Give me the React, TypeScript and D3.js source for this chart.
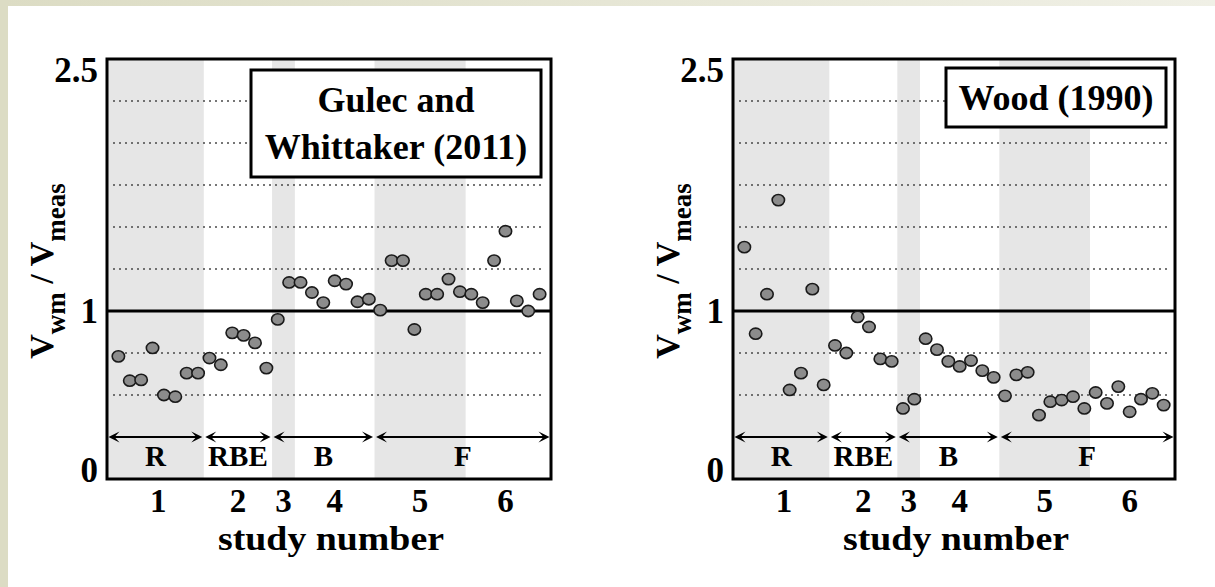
import React from 'react';
import * as d3 from 'd3';

// study numbers along the x axis and how many specimens each study contributes
const studies = ['1', '2', '3', '4', '5', '6'];
const pointsPerStudy = [8, 6, 2, 7, 8, 7];

// V_wm / V_meas, in specimen order
const gulecRatios = [
  0.73, 0.585, 0.59, 0.78, 0.5, 0.49, 0.63, 0.63,
  0.72, 0.68, 0.87, 0.855, 0.81, 0.66,
  0.95, 1.17,
  1.17, 1.11, 1.05, 1.18, 1.16, 1.055, 1.07,
  1.005, 1.3, 1.3, 0.89, 1.1, 1.1, 1.19, 1.115,
  1.1, 1.05, 1.3, 1.475, 1.06, 1.0, 1.1,
];

const woodRatios = [
  1.38, 0.865, 1.1, 1.66, 0.53, 0.63, 1.13, 0.56,
  0.795, 0.75, 0.965, 0.905, 0.715, 0.7,
  0.42, 0.475,
  0.835, 0.77, 0.7, 0.67, 0.705, 0.645, 0.605,
  0.495, 0.62, 0.635, 0.38, 0.46, 0.47, 0.49, 0.42,
  0.515, 0.45, 0.55, 0.4, 0.475, 0.51, 0.44,
];

// wall type groups: label and first / last study (0-based) they cover
const typeLabels = ['R', 'RBE', 'B', 'F'];
const typeStudies = [
  [0, 0],
  [1, 1],
  [2, 3],
  [4, 5],
];

const yTickValues = [0, 1, 2.5];
const gridValues = [0.5, 0.75, 1.25, 1.5, 1.75, 2, 2.25];
const arrowLevel = 0.25;

const W = 1215;
const H = 587;
const TOP = 59;
const BOTTOM = 479;
const FONT = '"Liberation Serif", "Times New Roman", serif';

const panels = [
  {
    left: 107,
    right: 551,
    ratios: gulecRatios,
    title: ['Gulec and', 'Whittaker (2011)'],
    box: { x0: 251, y0: 70, x1: 541, y1: 177 },
  },
  {
    left: 733,
    right: 1175,
    ratios: woodRatios,
    title: ['Wood (1990)'],
    box: { x0: 946, y0: 68, x1: 1166, y1: 127 },
  },
];

const arrowHead = (tipX: number, y: number, dir: number) => {
  const len = 11;
  const half = 5.5;
  const notch = 6;
  return `M${tipX},${y} L${tipX - dir * len},${y - half} L${tipX - dir * notch},${y} L${tipX - dir * len},${y + half} Z`;
};

interface PanelConfig {
  left: number;
  right: number;
  ratios: number[];
  title: string[];
  box: { x0: number; y0: number; x1: number; y1: number };
}

const Panel: React.FC<{ p: PanelConfig }> = ({ p }) => {
  const n = d3.sum(pointsPerStudy);
  const x = d3.scaleLinear().domain([-1, n]).range([p.left, p.right]);
  const y = d3.scaleLinear().domain([0, 2.5]).range([BOTTOM, TOP]);
  const starts = [0, ...Array.from(d3.cumsum(pointsPerStudy))];
  const edge = (k: number) => (k === 0 ? -1 : k === studies.length ? n : starts[k] - 0.5);
  const studyCenter = (k: number) => (starts[k] + starts[k + 1] - 1) / 2;
  const yArrow = y(arrowLevel);
  const boxH = p.box.y1 - p.box.y0;

  return (
    <g>
      {studies.map((s, k) =>
        k % 2 === 0 ? (
          <rect
            key={`band-${s}`}
            x={x(edge(k))}
            y={TOP}
            width={x(edge(k + 1)) - x(edge(k))}
            height={BOTTOM - TOP}
            fill="#e6e6e6"
          />
        ) : null
      )}

      {gridValues.map((v) => (
        <line
          key={`grid-${v}`}
          x1={p.left + 6}
          x2={p.right - 6}
          y1={y(v)}
          y2={y(v)}
          stroke="#4a4a4a"
          strokeWidth={1.3}
          strokeDasharray="2,4"
        />
      ))}

      <line x1={p.left} x2={p.right} y1={y(1)} y2={y(1)} stroke="#000" strokeWidth={2.8} />

      {typeLabels.map((label, t) => {
        const [a, b] = typeStudies[t];
        const x1 = x(edge(a)) + 1.5;
        const x2 = x(edge(b + 1)) - 1.5;
        return (
          <g key={`type-${label}`}>
            <line x1={x1 + 4} x2={x2 - 4} y1={yArrow} y2={yArrow} stroke="#000" strokeWidth={2} />
            <path d={arrowHead(x1, yArrow, -1)} fill="#000" />
            <path d={arrowHead(x2, yArrow, 1)} fill="#000" />
            <text
              x={(x1 + x2) / 2}
              y={yArrow + 29}
              textAnchor="middle"
              fontFamily={FONT}
              fontWeight="bold"
              fontSize={29}
            >
              {label}
            </text>
          </g>
        );
      })}

      {p.ratios.map((r, i) => (
        <ellipse
          key={`pt-${i}`}
          cx={x(i)}
          cy={y(r)}
          rx={6.2}
          ry={5.6}
          fill="#8c8c8c"
          stroke="#1a1a1a"
          strokeWidth={1.6}
        />
      ))}

      <rect
        x={p.box.x0}
        y={p.box.y0}
        width={p.box.x1 - p.box.x0}
        height={boxH}
        fill="#fff"
        stroke="#000"
        strokeWidth={3}
      />
      {p.title.map((line, i) => (
        <text
          key={`title-${i}`}
          x={(p.box.x0 + p.box.x1) / 2}
          y={p.box.y0 + boxH / 2 + (i - (p.title.length - 1) / 2) * 47 + 12}
          textAnchor="middle"
          fontFamily={FONT}
          fontWeight="bold"
          fontSize={36}
        >
          {line}
        </text>
      ))}

      <rect
        x={p.left}
        y={TOP}
        width={p.right - p.left}
        height={BOTTOM - TOP}
        fill="none"
        stroke="#000"
        strokeWidth={3}
      />

      {yTickValues.map((v) => (
        <text
          key={`yt-${v}`}
          x={p.left - 9}
          y={Math.min(Math.max(y(v) + 12, TOP + 23), BOTTOM + 3)}
          textAnchor="end"
          fontFamily={FONT}
          fontWeight="bold"
          fontSize={35}
        >
          {v}
        </text>
      ))}

      {studies.map((s, k) => (
        <text
          key={`xt-${s}`}
          x={x(studyCenter(k))}
          y={512}
          textAnchor="middle"
          fontFamily={FONT}
          fontWeight="bold"
          fontSize={33}
        >
          {s}
        </text>
      ))}
      <text
        x={(p.left + p.right) / 2 + 2}
        y={550}
        textAnchor="middle"
        fontFamily={FONT}
        fontWeight="bold"
        fontSize={33}
        textLength={226}
        lengthAdjust="spacingAndGlyphs"
      >
        study number
      </text>

      <text
        transform={`translate(${p.left - 54},${(TOP + BOTTOM) / 2 + 2}) rotate(-90)`}
        textAnchor="middle"
        fontFamily={FONT}
        fontWeight="bold"
        fontSize={34}
      >
        V
        <tspan dy={12} fontSize={27}>
          wm
        </tspan>
        <tspan dy={-12}>{' / V'}</tspan>
        <tspan dy={12} fontSize={27}>
          meas
        </tspan>
      </text>
    </g>
  );
};

export default function App() {
  return (
    <svg width={W} height={H} style={{ position: 'absolute', left: 0, top: 0, display: 'block' }}>
      <defs>
        <linearGradient id="topStrip" x1="0" x2="1" y1="0" y2="0">
          <stop offset="0%" stopColor="#dcdcc4" />
          <stop offset="100%" stopColor="#f0f0e6" />
        </linearGradient>
      </defs>
      <rect width={W} height={H} fill="#fff" />
      <rect width={W} height={6} fill="url(#topStrip)" />
      <rect width={8} height={H} fill="#dcdcc4" />
      {panels.map((p, i) => (
        <Panel key={i} p={p} />
      ))}
    </svg>
  );
}
